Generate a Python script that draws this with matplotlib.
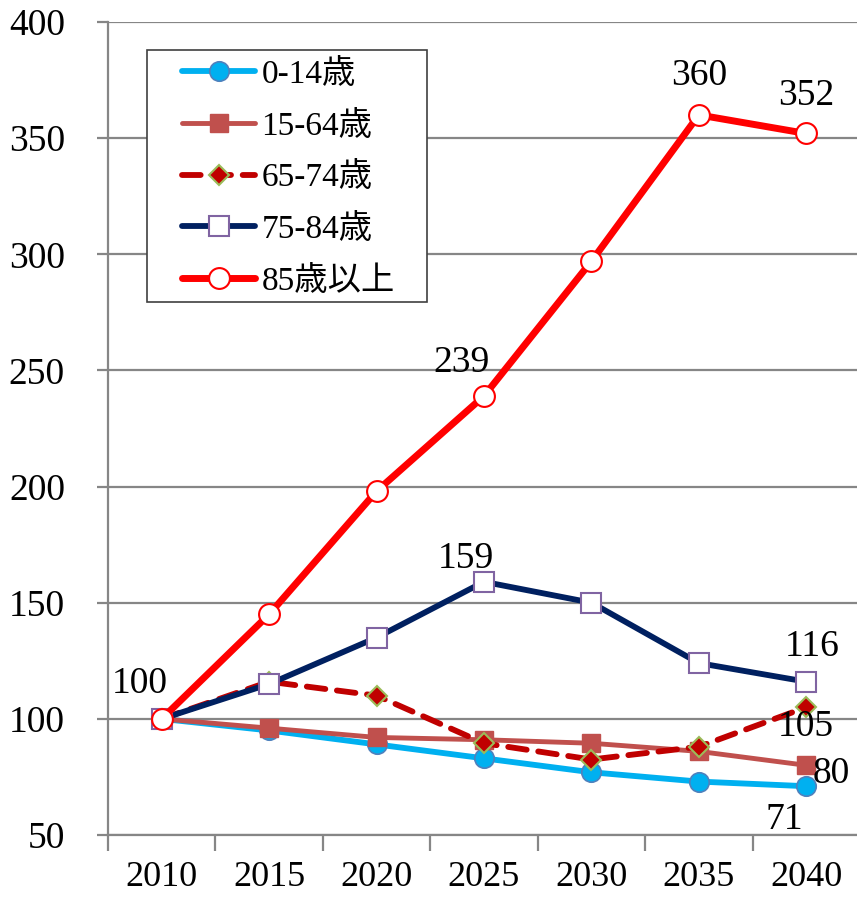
import matplotlib

matplotlib.use("Agg")
import matplotlib.pyplot as plt
from matplotlib.patches import Rectangle
from matplotlib.ticker import FixedLocator

plt.rcParams["font.family"] = ["Liberation Serif", "Noto Sans CJK JP"]

YEARS = ["2010", "2015", "2020", "2025", "2030", "2035", "2040"]
AGE_0_14 = [100, 95, 89, 83, 77, 73, 71]
AGE_15_64 = [100, 96, 92, 91, 89.5, 86, 80]
AGE_65_74 = [100, 116, 110, 89.5, 82.5, 88, 105]
AGE_75_84 = [100, 115, 135, 159, 150, 124, 116]
AGE_85_UP = [100, 145, 198, 239, 297, 360, 352]

SERIES_LABELS = ["0-14歳", "15-64歳", "65-74歳", "75-84歳", "85歳以上"]

# (series index, year index, text, dx px, dy px, ha, va)
LABELS = [
    (4, 0, "100", -22, 18, "center", "bottom"),
    (4, 3, "239", -22, 16, "center", "bottom"),
    (3, 3, "159", -18, 6, "center", "bottom"),
    (4, 5, "360", 0, 22, "center", "bottom"),
    (4, 6, "352", 0, 20, "center", "bottom"),
    (3, 6, "116", 6, 18, "center", "bottom"),
    (2, 6, "105", 0, -2, "center", "top"),
    (1, 6, "80", 6, -8, "left", "center"),
    (0, 6, "71", -22, -16, "center", "top"),
]

W, H = 857, 897
fig = plt.figure(figsize=(W / 100, H / 100), dpi=100)
ax = fig.add_axes([108 / W, 62 / H, 752 / W, 813 / H])

x = list(range(len(YEARS)))
values = [AGE_0_14, AGE_15_64, AGE_65_74, AGE_75_84, AGE_85_UP]

ax.plot(x, AGE_0_14, color="#00B0F0", lw=4.2, marker="o", ms=14,
        mfc="#00B0F0", mec="#4F81BD", mew=1.2, solid_capstyle="round",
        label=SERIES_LABELS[0], zorder=3)
ax.plot(x, AGE_15_64, color="#C0504D", lw=3.5, marker="s", ms=13,
        mfc="#C0504D", mec="#C0504D", solid_capstyle="round",
        label=SERIES_LABELS[1], zorder=4)
ax.plot(x, AGE_65_74, color="#C00000", lw=4.2, ls=(0, (3.2, 2.0)), marker="D",
        ms=10, mfc="#C00000", mec="#9BBB59", mew=1.5, dash_capstyle="round",
        label=SERIES_LABELS[2], zorder=5)
ax.plot(x, AGE_75_84, color="#002060", lw=4.2, marker="s", ms=14,
        mfc="white", mec="#8064A2", mew=1.5, solid_capstyle="round",
        label=SERIES_LABELS[3], zorder=6)
ax.plot(x, AGE_85_UP, color="#FF0000", lw=5, marker="o", ms=15,
        mfc="white", mec="#FF0000", mew=1.5, solid_capstyle="round",
        label=SERIES_LABELS[4], zorder=7)

for si, xi, txt, dx, dy, ha, va in LABELS:
    ax.annotate(txt, (x[xi], values[si][xi]), xytext=(dx * 0.72, dy * 0.72),
                textcoords="offset points", ha=ha, va=va, fontsize=27,
                zorder=8)

ax.set_xlim(-0.5, len(YEARS) - 0.5)
ax.set_ylim(50, 400)
ax.set_yticks(range(50, 401, 50))
ax.yaxis.grid(True, color="#868686", lw=1.6)
ax.set_axisbelow(True)

ax.set_xticks(x)
ax.set_xticklabels(YEARS)
ax.xaxis.set_minor_locator(FixedLocator([i - 0.5 for i in range(len(YEARS) + 1)]))
ax.tick_params(axis="x", which="major", length=0, pad=19, labelsize=26)
ax.tick_params(axis="x", which="minor", length=11.5, width=1.6, color="#868686")
ax.tick_params(axis="y", length=8, width=1.6, color="#868686", pad=23,
               labelsize=27)

for side in ("top", "right"):
    ax.spines[side].set_visible(False)
for side in ("left", "bottom"):
    ax.spines[side].set_color("#868686")
    ax.spines[side].set_linewidth(1.6)

# legend box drawn separately so its size matches the original
ax.add_patch(Rectangle((147 / W, 1 - 302 / H), 280 / W, 252 / H,
                       transform=fig.transFigure, fill=True, clip_on=False,
                       facecolor="white", edgecolor="#404040", lw=1.2,
                       zorder=9))
leg = ax.legend(loc="upper left", bbox_to_anchor=(182 / W, 1 - 59 / H),
                bbox_transform=fig.transFigure, fontsize=24, frameon=False,
                handlelength=2.2, handletextpad=0.18, labelspacing=0.62,
                borderpad=0, borderaxespad=0)
leg.set_zorder(10)

fig.savefig("out.png", dpi=100)
